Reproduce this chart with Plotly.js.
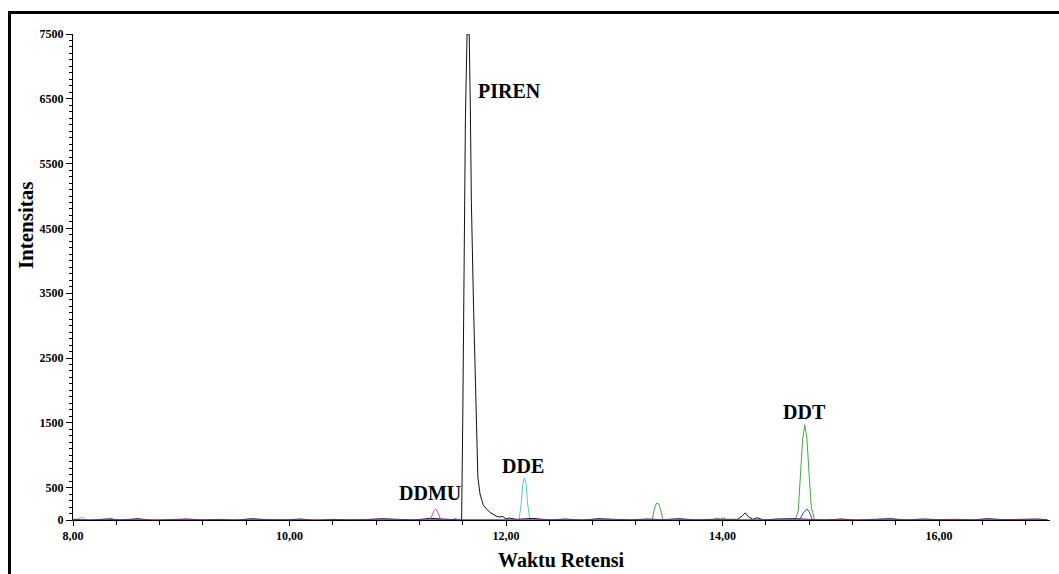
<!DOCTYPE html>
<html>
<head>
<meta charset="utf-8">
<script src="https://cdn.plot.ly/plotly-3.0.1.min.js"></script>
<style>
  html, body { margin: 0; padding: 0; background: #fff; }
  #chart { width: 1059px; height: 574px; position: relative; }
  #frame { position: absolute; left: 8px; top: 11px; width: 1200px; height: 700px;
           border-left: 3px solid #000; border-top: 3px solid #000; pointer-events: none; }
  #wrap { position: relative; width: 1059px; height: 574px; overflow: hidden; }
</style>
</head>
<body>
<div id="wrap">
  <div id="chart"></div>
  <div id="frame"></div>
</div>
<script>
// ---- Data ----
// Black trace (PIREN + baseline noise)
const timeBlack = [
  8.00, 8.15, 8.30, 8.45, 8.60, 8.75, 8.90, 9.05, 9.20, 9.35, 9.50, 9.65, 9.80, 9.95, 10.10, 10.25, 10.40, 10.55, 10.70, 10.85, 11.00, 11.15, 11.30, 11.45, 11.55,
  11.59, 11.60, 11.61, 11.625, 11.64, 11.66, 11.67, 11.68, 11.70, 11.72, 11.73, 11.74, 11.76, 11.79, 11.82, 11.85, 11.88, 11.91, 11.94, 11.97, 12.00, 12.03,
  12.10, 12.25, 12.40, 12.55, 12.70, 12.85, 13.00, 13.15, 13.30, 13.45, 13.60, 13.75, 13.90, 14.05, 14.14, 14.18, 14.21, 14.24, 14.28, 14.32, 14.35, 14.38,
  14.50, 14.65, 14.80, 14.95, 15.10, 15.25, 15.40, 15.55, 15.70, 15.85, 16.00, 16.15, 16.30, 16.45, 16.60, 16.75, 16.90, 17.00
];
const intBlack = [
  10, -5, 15, 0, 20, -10, 5, 15, 0, 10, -5, 20, 5, 0, 15, -10, 10, 0, 5, 20, 10, 0, 25, 10, 5,
  0, 1500, 3800, 6200, 7500, 7500, 6400, 4900, 3300, 2160, 1300, 660, 400, 230, 170, 120, 90, 60, 46, 55, 15, 30,
  10, 25, 0, 15, -5, 20, 10, 0, 15, 5, 20, 0, 10, 15, 10, 60, 110, 50, 10, 35, 15, 0,
  15, 20, 10, 0, 15, -5, 10, 20, 0, 15, 5, 10, 0, 20, 5, 10, 15, 5
];
// Cyan trace (DDE)
const timeCyan = [8.00, 8.05, 8.08, 8.11, 8.15, 8.30, 12.00, 12.12, 12.14, 12.155, 12.17, 12.185, 12.20, 12.22, 12.40, 17.00];
const intCyan  = [0, 20, 45, 15, 0, 0, 0, 0, 250, 560, 650, 560, 250, 0, 0, 0];
// Green trace (DDT)
const timeGreen = [8.00, 8.30, 8.34, 8.37, 8.40, 11.50, 11.53, 11.56, 13.35, 13.37, 13.39, 13.41, 13.43, 13.45,
  13.90, 13.95, 13.98, 14.01, 14.04, 14.66, 14.68, 14.70, 14.72, 14.74, 14.76, 14.78, 14.80, 14.82, 14.85, 17.00];
const intGreen = [0, 0, 30, 15, 0, 0, 25, 0, 0, 170, 260, 250, 150, 0,
  0, 30, 10, 35, 0, 0, 40, 150, 700, 1250, 1470, 1250, 700, 200, 0, 0];
// Blue trace (small DDT)
const timeBlue = [8.00, 14.71, 14.73, 14.75, 14.78, 14.80, 14.83, 17.00];
const intBlue  = [0, 0, 60, 120, 170, 130, 0, 0];
// Magenta trace (baseline + DDMU)
const timeMagenta = [8.00, 11.28, 11.31, 11.33, 11.35, 11.37, 11.39, 11.42, 17.00];
const intMagenta  = [0, 0, 40, 130, 170, 120, 30, 0, 0];

// Axis ticks
const xTickVals = [8, 10, 12, 14, 16];
const xTickText = ["8,00", "10,00", "12,00", "14,00", "16,00"];
const yTickVals = [0, 500, 1500, 2500, 3500, 4500, 5500, 6500, 7500];
const yTickText = ["0", "500", "1500", "2500", "3500", "4500", "5500", "6500", "7500"];

// Peak labels
const peakNames = ["PIREN", "DDMU", "DDE", "DDT"];
const peakX = [12.03, 11.30, 12.16, 14.76];
const peakY = [6620, 417, 833, 1667];

// ---- Chart ----
const serif = "'Liberation Serif', 'Times New Roman', serif";
const mk = (x, y, color) => ({ x: x, y: y, type: 'scatter', mode: 'lines',
  line: { color: color, width: 1 }, hoverinfo: 'skip', showlegend: false, cliponaxis: true });

const traces = [
  mk(timeCyan, intCyan, '#56c6e6'),
  mk(timeGreen, intGreen, '#3fae45'),
  mk(timeBlue, intBlue, '#3a3ad0'),
  mk(timeBlack, intBlack, '#111111'),
  mk(timeMagenta, intMagenta, '#c24ccc')
];

const annotations = peakNames.map((n, i) => ({
  x: peakX[i], y: peakY[i], xref: 'x', yref: 'y', text: n, showarrow: false,
  xanchor: 'center', yanchor: 'middle',
  font: { family: serif, size: 20, color: '#000', weight: 'bold' }
}));
annotations.push({
  x: 0.5005, y: -0.0823, xref: 'paper', yref: 'paper', text: 'Waktu Retensi', showarrow: false,
  xanchor: 'center', yanchor: 'middle',
  font: { family: serif, size: 20, color: '#000', weight: 'bold' }
});
annotations.push({
  x: -0.048, y: 0.607, xref: 'paper', yref: 'paper', text: 'Intensitas', showarrow: false,
  textangle: -90, xanchor: 'center', yanchor: 'middle',
  font: { family: serif, size: 21, color: '#000', weight: 'bold' }
});

const layout = {
  width: 1059, height: 574,
  margin: { l: 73, r: 9, t: 34, b: 54 },
  paper_bgcolor: '#fff', plot_bgcolor: '#fff',
  showlegend: false,
  xaxis: {
    range: [8, 17.025], showgrid: false, zeroline: false,
    showline: true, linecolor: '#000', linewidth: 1,
    tickmode: 'array', tickvals: xTickVals, ticktext: xTickText,
    ticks: 'outside', ticklen: 5, tickcolor: '#000', tickwidth: 1,
    minor: { ticks: 'outside', ticklen: 4, tickcolor: '#000', tick0: 8, dtick: 0.4, showgrid: false },
    tickfont: { family: serif, size: 12, color: '#000', weight: 'bold' }
  },
  yaxis: {
    range: [0, 7500], showgrid: false, zeroline: false,
    showline: true, linecolor: '#000', linewidth: 1,
    tickmode: 'array', tickvals: yTickVals, ticktext: yTickText,
    ticks: 'outside', ticklen: 6, tickcolor: '#000', tickwidth: 1,
    minor: { ticks: 'outside', ticklen: 3, tickcolor: '#000', tick0: 0, dtick: 100, showgrid: false },
    tickfont: { family: serif, size: 12, color: '#000', weight: 'bold' }
  },
  annotations: annotations
};

Plotly.newPlot('chart', traces, layout, { staticPlot: true, displayModeBar: false });
</script>
</body>
</html>
